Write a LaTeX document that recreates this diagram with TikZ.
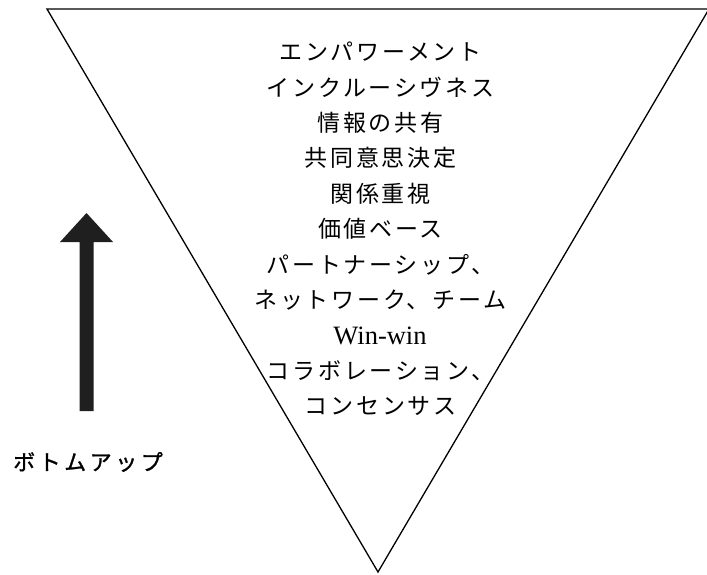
\documentclass[tikz,border=0pt]{standalone}
\usepackage{fontspec}
\setmainfont{Liberation Serif}
\newfontfamily\cjk[LetterSpace=12]{Noto Sans CJK JP}
\newfontfamily\cjklbl[LetterSpace=16,FakeBold=1.2]{Noto Sans CJK JP}
\newfontfamily\latn{Liberation Serif}
\tikzset{
  edge/.style={line width=1.3pt, line join=miter},
  txt/.style={inner sep=0pt, font=\cjk\fontsize{23}{28}\selectfont},
  wtxt/.style={inner sep=0pt, font={\fontsize{26.5}{30}\selectfont\latn}},
  lbl/.style={inner sep=0pt, font=\cjklbl\fontsize{22}{26}\selectfont}
}
\begin{document}
\begin{tikzpicture}[x=1pt,y=-1pt]
\useasboundingbox (0,0) rectangle (707,574);
% inverted triangle
\coordinate (tl) at (47,9);
\coordinate (tr) at (709,9);
\coordinate (bt) at (378,572);
\draw[edge] (tl) -- (tr) -- (bt) -- cycle;
% text lines
\foreach \t [count=\i] in {エンパワーメント,インクルーシヴネス,情報の共有,共同意思決定,関係重視,価値ベース,パートナーシップ、,ネットワーク、チーム}
  \node[txt] (l\i) at (380.5,{52+35.4*(\i-1)}) {\t};
\node[wtxt] (l9) at (380,336) {Win-win};
\node[txt] (l10) at (380.5,370.6) {コラボレーション、};
\node[txt] (l11) at (380.5,406) {コンセンサス};
% arrow
\fill[black!88] (79.5,411) -- (93.5,411) -- (93.5,242) -- (113,242) -- (86.5,213) -- (60,242) -- (79.5,242) -- cycle;
\node[lbl] (bu) at (88,462) {ボトムアップ};
\end{tikzpicture}
\end{document}
